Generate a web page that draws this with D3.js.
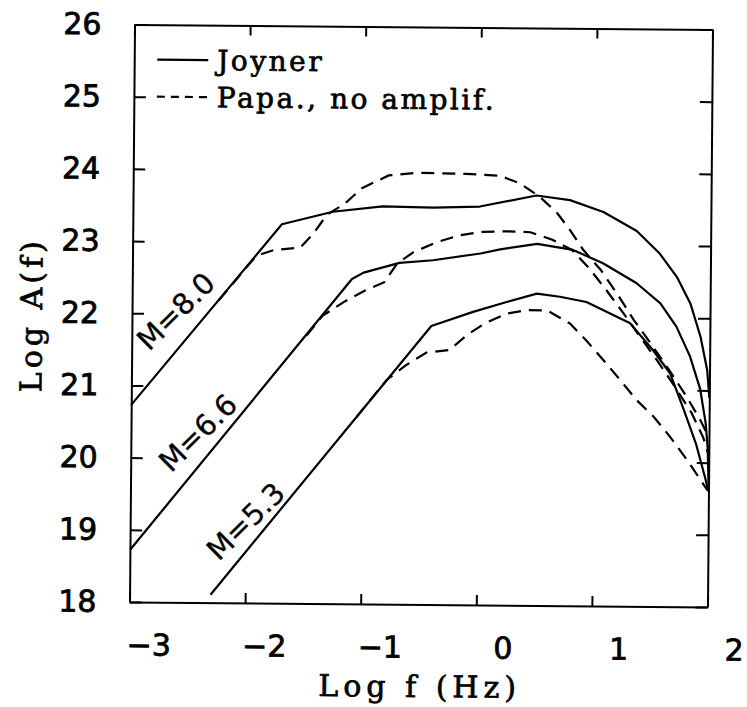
<!DOCTYPE html>
<html><head><meta charset="utf-8">
<script src="https://cdn.jsdelivr.net/npm/d3@7"></script>
<style>html,body{margin:0;padding:0;background:#fff}</style>
</head><body>
<svg id="chart" width="747" height="707"></svg>
<script>
// ---------- data ----------
const xTicks = [-3, -2, -1, 0, 1, 2];
const yTicks = [18, 19, 20, 21, 22, 23, 24, 25, 26];
const magnitudes = ["M=8.0", "M=6.6", "M=5.3"];
const legendLabels = ["Joyner", "Papa., no amplif."];

const joynerM80 = [[-3,20.73],[-1.71,23.25],[-1.27,23.43],[-0.84,23.51],[-0.40,23.50],[0.0,23.52],[0.49,23.68],[0.78,23.62],[1.07,23.46],[1.36,23.20],[1.56,22.89],[1.71,22.57],[1.83,22.20],[1.92,21.74],[1.98,21.28],[2.0,20.9]];
const joynerM66 = [[-3,18.72],[-1.10,22.50],[-1.0,22.59],[-0.69,22.73],[-0.40,22.77],[0.01,22.87],[0.18,22.93],[0.50,23.01],[0.81,22.93],[1.07,22.75],[1.36,22.48],[1.57,22.20],[1.71,21.88],[1.83,21.47],[1.92,21.02],[1.97,20.55],[1.99,20.2],[2.0,19.7]];
const joynerM53 = [[-2.30,18.11],[-0.41,21.86],[-0.05,22.06],[0.24,22.20],[0.50,22.32],[0.70,22.28],[0.93,22.21],[1.31,21.92],[1.51,21.55],[1.66,21.23],[1.78,20.73],[1.89,20.25],[1.97,19.79],[2.0,19.6]];

const papaM80 = [[-2.25,22.19],[-1.93,22.81],[-1.78,22.89],[-1.55,22.93],[-1.44,23.12],[-1.32,23.39],[-1.17,23.54],[-1.02,23.76],[-0.79,23.94],[-0.55,23.98],[-0.12,23.97],[0.17,23.95],[0.34,23.85],[0.52,23.66],[0.67,23.44],[0.78,23.21],[0.90,22.93],[1.05,22.66],[1.19,22.34],[1.34,21.97],[1.50,21.62],[1.65,21.28],[1.80,20.92],[1.92,20.6],[2.0,20.35]];
const papaM66 = [[-1.49,21.71],[-1.35,21.99],[-1.17,22.18],[-0.99,22.34],[-0.82,22.46],[-0.71,22.72],[-0.57,22.88],[-0.37,23.02],[-0.17,23.12],[0.03,23.17],[0.24,23.18],[0.44,23.17],[0.63,23.07],[0.80,22.93],[0.95,22.68],[1.10,22.38],[1.25,22.06],[1.40,21.73],[1.55,21.40],[1.70,21.05],[1.85,20.68],[1.95,20.35],[2.0,20.1]];
const papaM53 = [[-1.05,20.59],[-0.79,21.11],[-0.62,21.32],[-0.45,21.49],[-0.25,21.53],[-0.10,21.74],[0.05,21.90],[0.24,22.04],[0.41,22.09],[0.59,22.09],[0.79,21.91],[0.93,21.68],[1.08,21.41],[1.23,21.13],[1.37,20.86],[1.52,20.63],[1.66,20.36],[1.81,20.04],[1.93,19.76],[1.99,19.62]];

// ---------- drawing ----------
const sansFont = "'DejaVu Sans', sans-serif";
const serifFont = "'DejaVu Serif', serif";

const svg = d3.select("#chart");
svg.append("rect").attr("width", 747).attr("height", 707).attr("fill", "#fff");
const g = svg.append("g").attr("transform", "rotate(0.5,421,316)");

const x = d3.scaleLinear().domain([-3, 2]).range([132, 710]);
const y = d3.scaleLinear().domain([18, 26]).range([604.5, 27]);

function styleAxis(sel) {
  sel.select(".domain").attr("stroke", "#000").attr("stroke-width", 2);
  sel.selectAll(".tick line").attr("stroke", "#000").attr("stroke-width", 2);
}
function heavyText(sel, w) {
  sel.attr("fill", "#000").attr("stroke", "#000").attr("stroke-width", w).attr("paint-order", "stroke");
}

// bottom
const gx = g.append("g").attr("transform", `translate(0,${y(18)})`)
  .call(d3.axisBottom(x).tickValues(xTicks).tickFormat(d3.format("d"))
    .tickSizeInner(-10).tickSizeOuter(0).tickPadding(32))
  .attr("font-family", sansFont).attr("font-size", 30);
styleAxis(gx);
gx.selectAll(".tick text").attr("text-anchor", "start").attr("dx", d => d < 0 ? -3 : 17).call(heavyText, 0.8);

// top
const gt = g.append("g").attr("transform", `translate(0,${y(26)})`)
  .call(d3.axisTop(x).tickValues(xTicks).tickSizeInner(-10).tickSizeOuter(0).tickFormat(""));
styleAxis(gt);

// left
const gy = g.append("g").attr("transform", `translate(${x(-3)},0)`)
  .call(d3.axisLeft(y).tickValues(yTicks).tickSizeInner(-12).tickSizeOuter(0).tickPadding(33))
  .attr("font-family", sansFont).attr("font-size", 30);
styleAxis(gy);
gy.selectAll(".tick text").call(heavyText, 0.8);

// right
const gr = g.append("g").attr("transform", `translate(${x(2)},0)`)
  .call(d3.axisRight(y).tickValues(yTicks).tickSizeInner(-12).tickSizeOuter(0).tickFormat(""));
styleAxis(gr);

// curves
const line = d3.line().x(d => x(d[0])).y(d => y(d[1]));
g.selectAll("path.joyner").data([joynerM80, joynerM66, joynerM53]).join("path")
  .attr("class", "joyner").attr("d", line)
  .attr("fill", "none").attr("stroke", "#000").attr("stroke-width", 2.2).attr("stroke-linejoin", "round");
g.selectAll("path.papa").data([papaM80, papaM66, papaM53]).join("path")
  .attr("class", "papa").attr("d", line)
  .attr("fill", "none").attr("stroke", "#000").attr("stroke-width", 2.2).attr("stroke-dasharray", "13,8");

// magnitude labels (anchored in data space)
const magAnchors = [[-2.62, 22.03], [-2.42, 20.35], [-2.0, 19.13]];
g.selectAll("text.mag").data(magnitudes).join("text")
  .attr("class", "mag")
  .attr("transform", (d, i) => `translate(${x(magAnchors[i][0])},${y(magAnchors[i][1])}) rotate(-45)`)
  .attr("text-anchor", "middle").attr("dominant-baseline", "central")
  .attr("font-family", sansFont).attr("font-size", 29)
  .text(d => d)
  .call(heavyText, 0.3);

// legend
const legendY = [62, 99];
legendLabels.forEach((lab, i) => {
  g.append("line").attr("x1", 155).attr("x2", 206).attr("y1", legendY[i]).attr("y2", legendY[i])
    .attr("stroke", "#000").attr("stroke-width", 2.2)
    .attr("stroke-dasharray", i === 0 ? null : "8,6");
  g.append("text").attr("x", 215).attr("y", legendY[i] + 10)
    .attr("font-family", serifFont).attr("font-size", 28).attr("letter-spacing", 2.5)
    .text(lab)
    .call(heavyText, 0.7);
});

// axis titles
g.append("text").attr("x", 423).attr("y", 697).attr("text-anchor", "middle")
  .attr("font-family", serifFont).attr("font-size", 30).attr("letter-spacing", 5)
  .text("Log f (Hz)")
  .call(heavyText, 0.7);
g.append("text").attr("transform", "translate(42,318) rotate(-90)").attr("text-anchor", "middle")
  .attr("font-family", serifFont).attr("font-size", 30).attr("letter-spacing", 4)
  .text("Log A(f)")
  .call(heavyText, 0.7);
</script>
</body></html>
